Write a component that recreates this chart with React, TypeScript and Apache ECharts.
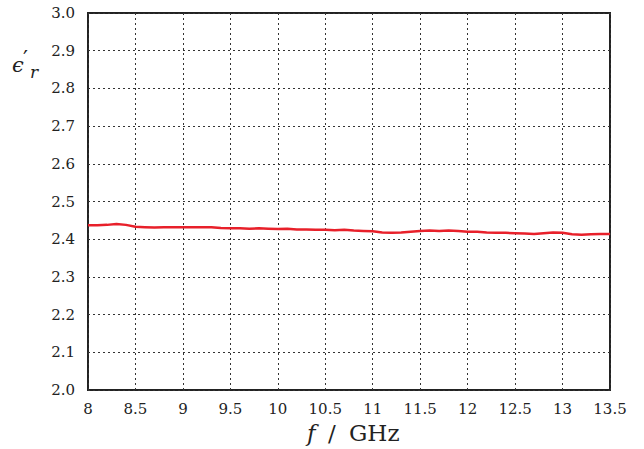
import React, { useEffect, useRef } from "react";
import * as echarts from "echarts";

const freqGHz = [
  8.0, 8.1, 8.2, 8.3, 8.4, 8.5, 8.6, 8.7, 8.8, 8.9,
  9.0, 9.1, 9.2, 9.3, 9.4, 9.5, 9.6, 9.7, 9.8, 9.9,
  10.0, 10.1, 10.2, 10.3, 10.4, 10.5, 10.6, 10.7, 10.8, 10.9,
  11.0, 11.1, 11.2, 11.3, 11.4, 11.5, 11.6, 11.7, 11.8, 11.9,
  12.0, 12.1, 12.2, 12.3, 12.4, 12.5, 12.6, 12.7, 12.8, 12.9,
  13.0, 13.1, 13.2, 13.3, 13.4, 13.5,
];
const epsilonReal = [
  2.437, 2.437, 2.438, 2.440, 2.438, 2.433, 2.432, 2.431, 2.432, 2.432,
  2.432, 2.432, 2.432, 2.432, 2.430, 2.429, 2.429, 2.428, 2.429, 2.428,
  2.427, 2.428, 2.426, 2.426, 2.425, 2.425, 2.424, 2.425, 2.423, 2.422,
  2.421, 2.418, 2.417, 2.418, 2.420, 2.422, 2.423, 2.422, 2.423, 2.422,
  2.420, 2.420, 2.418, 2.417, 2.417, 2.416, 2.415, 2.414, 2.416, 2.418,
  2.417, 2.413, 2.412, 2.413, 2.414, 2.414,
];

const FONT = "DejaVu Serif";

export default function App() {
  const ref = useRef<HTMLDivElement>(null);
  useEffect(() => {
    if (!ref.current) return;
    const chart = echarts.init(ref.current, undefined, { renderer: "svg" });
    chart.setOption({
      animation: false,
      backgroundColor: "#fff",
      textStyle: { fontFamily: FONT },
      grid: {
        left: 88,
        right: 34,
        top: 13,
        bottom: 59,
        show: true,
        borderColor: "#222",
        borderWidth: 2,
        backgroundColor: "transparent",
      },
      xAxis: {
        type: "value",
        min: 8,
        max: 13.5,
        interval: 0.5,
        axisLine: { show: false },
        axisTick: { show: false },
        axisLabel: {
          color: "#222",
          fontFamily: FONT,
          fontSize: 15,
          margin: 11,
        },
        splitLine: {
          show: true,
          lineStyle: { color: "#333", type: [2, 3], width: 1 },
        },
      },
      yAxis: {
        type: "value",
        min: 2,
        max: 3,
        interval: 0.1,
        axisLine: { show: false },
        axisTick: { show: false },
        axisLabel: {
          color: "#222",
          fontFamily: FONT,
          fontSize: 15,
          margin: 13,
          formatter: (v: number) => v.toFixed(1),
        },
        splitLine: {
          show: true,
          lineStyle: { color: "#333", type: [2, 3], width: 1 },
        },
      },
      graphic: [
        {
          type: "text",
          x: 307,
          y: 421,
          style: { text: "f", fontFamily: FONT, fontStyle: "italic", fontSize: 23, fill: "#222" },
        },
        {
          type: "text",
          x: 328,
          y: 421,
          style: { text: "/", fontFamily: FONT, fontSize: 23, fill: "#222" },
        },
        {
          type: "text",
          x: 349,
          y: 421,
          style: { text: "GHz", fontFamily: FONT, fontSize: 23, fill: "#222" },
        },
        {
          type: "text",
          x: 12,
          y: 54,
          style: { text: "ϵ", fontFamily: FONT, fontStyle: "italic", fontSize: 21, fill: "#222" },
        },
        {
          type: "text",
          x: 23,
          y: 47,
          style: { text: "′", fontFamily: FONT, fontSize: 22, fill: "#222" },
        },
        {
          type: "text",
          x: 30,
          y: 63,
          style: { text: "r", fontFamily: FONT, fontStyle: "italic", fontSize: 17, fill: "#222" },
        },
      ],
      series: [
        {
          type: "line",
          data: freqGHz.map((f, i) => [f, epsilonReal[i]]),
          showSymbol: false,
          lineStyle: { color: "#e8202a", width: 2.5 },
          z: 5,
        },
      ],
    });
    return () => chart.dispose();
  }, []);
  return <div ref={ref} style={{ width: 644, height: 449, position: "absolute", left: 0, top: 0 }} />;
}
